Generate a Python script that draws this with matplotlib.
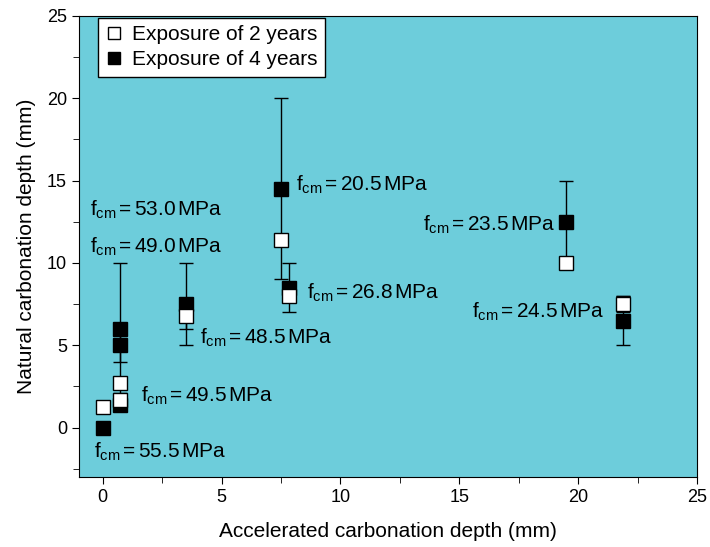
import matplotlib
matplotlib.use('Agg')
import matplotlib.pyplot as plt
from matplotlib.lines import Line2D
from matplotlib.ticker import MultipleLocator

plt.rcParams['font.family'] = ['Liberation Sans', 'DejaVu Sans']
plt.rcParams['mathtext.fontset'] = 'custom'
plt.rcParams['mathtext.rm'] = 'Liberation Sans'
plt.rcParams['mathtext.it'] = 'Liberation Sans'

# exposure of 2 years (open squares)
x2 = [0.0, 0.75, 0.75, 3.5, 7.5, 7.85, 19.5, 21.9]
y2 = [1.25, 1.7, 2.7, 6.8, 11.4, 8.0, 10.0, 7.5]
e2 = [0.2, 0.4, 0.3, 0.8, 0.3, 0.3, 0.0, 0.5]

# exposure of 4 years (filled squares)
x4 = [0.0, 0.75, 0.75, 0.75, 3.5, 7.5, 7.85, 19.5, 21.9]
y4 = [0.0, 1.4, 5.0, 6.0, 7.5, 14.5, 8.5, 12.5, 6.5]
e4 = [0.0, 0.2, 1.0, 4.0, 2.5, 5.5, 1.5, 2.5, 1.5]

labels = ['53.0', '49.0', '48.5', '49.5', '55.5', '20.5', '26.8', '23.5', '24.5']
lab_x = [-0.55, -0.55, 4.1, 1.6, -0.35, 8.15, 8.6, 13.45, 15.55]
lab_y = [13.2, 11.0, 5.45, 1.9, -1.5, 14.75, 8.2, 12.3, 7.0]

fig, ax = plt.subplots(figsize=(7.1, 5.47), dpi=100)
ax.set_facecolor('#6dcddb')

ax.errorbar(x4, y4, yerr=e4, fmt='s', color='black', mfc='black', mec='black',
            ms=9.5, capsize=5, elinewidth=1, capthick=1, zorder=2)
ax.errorbar(x2, y2, yerr=e2, fmt='s', color='black', mfc='white', mec='black',
            ms=9.5, capsize=5, elinewidth=1, capthick=1, zorder=3)

for t, lx, ly in zip(labels, lab_x, lab_y):
    ax.text(lx, ly, r'f$_{\rm cm}$$\,$=$\,$' + t + r'$\,$MPa', fontsize=15,
            va='center', ha='left')

ax.set_xlim(-1, 25)
ax.set_ylim(-3, 25)
ax.xaxis.set_major_locator(MultipleLocator(5))
ax.xaxis.set_minor_locator(MultipleLocator(2.5))
ax.yaxis.set_major_locator(MultipleLocator(5))
ax.yaxis.set_minor_locator(MultipleLocator(2.5))
ax.tick_params(which='both', direction='out', labelsize=13)
ax.tick_params(which='major', length=5)
ax.tick_params(which='minor', length=4)

ax.set_xlabel('Accelerated carbonation depth (mm)', fontsize=15, labelpad=12)
ax.set_ylabel('Natural carbonation depth (mm)', fontsize=15, labelpad=8)

handles = [
    Line2D([], [], ls='none', marker='s', ms=8.5, mfc='white', mec='black'),
    Line2D([], [], ls='none', marker='s', ms=8.5, mfc='black', mec='black'),
]
leg = ax.legend(handles, ['Exposure of 2 years', 'Exposure of 4 years'], loc='upper left',
                bbox_to_anchor=(0.031, 0.996), borderaxespad=0,
                fontsize=15, frameon=True, fancybox=False, edgecolor='black', framealpha=1,
                handlelength=0.8, handletextpad=0.5, labelspacing=0.3, borderpad=0.35)
leg.get_frame().set_linewidth(1)

fig.subplots_adjust(left=0.111, right=0.982, top=0.971, bottom=0.128)
fig.savefig('out.png', dpi=100)
